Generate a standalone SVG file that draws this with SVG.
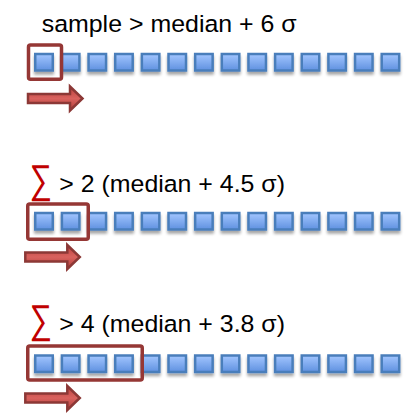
<svg xmlns="http://www.w3.org/2000/svg" width="406" height="413" viewBox="0 0 406 413">
<defs>
<linearGradient id="sq" x1="0" y1="0" x2="0" y2="1">
<stop offset="0" stop-color="#a3c6ff"/>
<stop offset="1" stop-color="#5f91e0"/>
</linearGradient>
<linearGradient id="ar" x1="0" y1="0" x2="0" y2="1">
<stop offset="0" stop-color="#b9413e"/>
<stop offset="0.5" stop-color="#d9625e"/>
<stop offset="1" stop-color="#b03c39"/>
</linearGradient>
<filter id="sh" x="-30%" y="-30%" width="160%" height="180%">
<feGaussianBlur in="SourceAlpha" stdDeviation="1.6"/>
<feOffset dx="0" dy="3" result="b"/>
<feComponentTransfer><feFuncA type="linear" slope="0.35"/></feComponentTransfer>
<feMerge><feMergeNode/><feMergeNode in="SourceGraphic"/></feMerge>
</filter>
<g id="cell"><rect x="0" y="0" width="17.5" height="16.5" fill="url(#sq)" stroke="#4a7ebb" stroke-width="2.5"/></g>
<g id="row">
<use href="#cell" x="0"/><use href="#cell" x="26.65"/><use href="#cell" x="53.3"/><use href="#cell" x="79.95"/>
<use href="#cell" x="106.6"/><use href="#cell" x="133.25"/><use href="#cell" x="159.9"/><use href="#cell" x="186.55"/>
<use href="#cell" x="213.2"/><use href="#cell" x="239.85"/><use href="#cell" x="266.5"/><use href="#cell" x="293.15"/>
<use href="#cell" x="319.8"/><use href="#cell" x="346.45"/>
</g>
<path id="arrow" d="M0,-4.5 H42 V-12 L54.5,0 L42,12 V4.5 H0 Z" fill="url(#ar)" stroke="#8c3836" stroke-width="2.5" stroke-linejoin="miter"/>
</defs>
<style>
.t{font-family:"Liberation Sans",Arial,sans-serif;font-size:24.5px;fill:#000}
.s{font-family:"Liberation Sans",Arial,sans-serif;font-size:40px;fill:#c00000}
.box{fill:none;stroke:#953735;stroke-width:3.5}
</style>
<g id="row1">
<text class="t" x="41.7" y="31.5" textLength="255" lengthAdjust="spacingAndGlyphs">sample &gt; median + 6 σ</text>
<use href="#row" x="35.25" y="54" filter="url(#sh)"/>
<rect class="box" x="28.5" y="45" width="33" height="34.3" rx="2"/>
</g>
<g id="row2">
<text class="s" x="29.5" y="192.5" textLength="22.5" lengthAdjust="spacingAndGlyphs">∑</text>
<text class="t" x="59.3" y="191.7" textLength="225.7" lengthAdjust="spacingAndGlyphs">&gt; 2 (median + 4.5 σ)</text>
<use href="#row" x="35.25" y="213" filter="url(#sh)"/>
<rect class="box" x="27.75" y="204" width="60.5" height="35.3" rx="2"/>
</g>
<g id="row3">
<text class="s" x="29.5" y="332.5" textLength="22.5" lengthAdjust="spacingAndGlyphs">∑</text>
<text class="t" x="59.3" y="331.7" textLength="225.7" lengthAdjust="spacingAndGlyphs">&gt; 4 (median + 3.8 σ)</text>
<use href="#row" x="35.25" y="355.5" filter="url(#sh)"/>
<rect class="box" x="27.75" y="346" width="114.5" height="34" rx="2"/>
</g>
<g id="connectors">
<use href="#arrow" x="28" y="98.5"/>
<use href="#arrow" x="25.3" y="257"/>
<use href="#arrow" x="25.3" y="398"/>
</g>
</svg>
